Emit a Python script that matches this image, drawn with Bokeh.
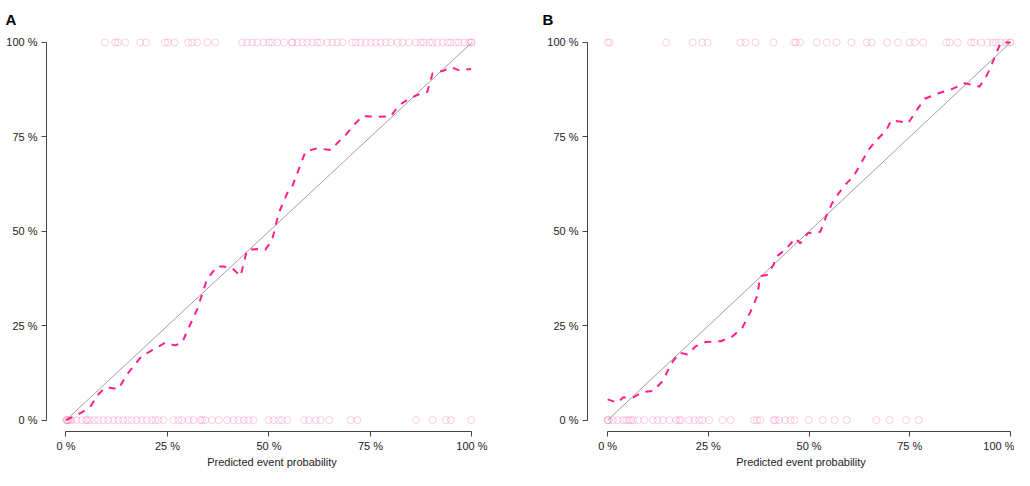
from bokeh.plotting import figure
from bokeh.layouts import row
from bokeh.models import FixedTicker, Range1d
from bokeh.embed import file_html
from bokeh.resources import INLINE

# ---------------- data (fractions 0..1) ----------------
tick_vals = [0, 0.25, 0.5, 0.75, 1]
tick_labels = ["0 %", "25 %", "50 %", "75 %", "100 %"]

a_curve_x = [0.0, 0.026, 0.059, 0.076, 0.096, 0.109, 0.129, 0.15, 0.187, 0.224, 0.244, 0.269,
             0.286, 0.302, 0.323, 0.335, 0.347, 0.372, 0.388, 0.409, 0.43, 0.446, 0.471, 0.491,
             0.508, 0.524, 0.545, 0.557, 0.59, 0.619, 0.652, 0.668, 0.689, 0.709, 0.73, 0.767,
             0.80, 0.821, 0.845, 0.874, 0.89, 0.903, 0.932, 0.948, 0.969, 0.998]
a_curve_y = [0.0, 0.013, 0.033, 0.064, 0.086, 0.086, 0.082, 0.121, 0.17, 0.192, 0.205, 0.198,
             0.205, 0.244, 0.293, 0.332, 0.372, 0.407, 0.407, 0.403, 0.381, 0.451, 0.453, 0.451,
             0.478, 0.548, 0.601, 0.618, 0.711, 0.72, 0.715, 0.733, 0.755, 0.781, 0.805, 0.803,
             0.805, 0.834, 0.851, 0.865, 0.869, 0.918, 0.926, 0.935, 0.926, 0.93]

a_events_x = [0.096, 0.121, 0.128, 0.146, 0.183, 0.197, 0.244, 0.251, 0.267, 0.301, 0.311,
              0.323, 0.348, 0.368, 0.434, 0.446, 0.459, 0.471, 0.487, 0.50, 0.508, 0.52,
              0.537, 0.557, 0.557, 0.57, 0.582, 0.594, 0.607, 0.619, 0.627, 0.644, 0.656,
              0.668, 0.681, 0.705, 0.714, 0.726, 0.738, 0.751, 0.763, 0.775, 0.788, 0.80,
              0.817, 0.829, 0.845, 0.862, 0.874, 0.882, 0.895, 0.903, 0.915, 0.928, 0.94,
              0.948, 0.96, 0.968, 0.981, 0.993, 0.999, 0.999]
a_nonevents_x = [0.0, 0.002, 0.004, 0.006, 0.01, 0.014, 0.026, 0.039, 0.049, 0.052, 0.059,
                 0.07, 0.08, 0.092, 0.104, 0.117, 0.129, 0.141, 0.152, 0.162, 0.174, 0.187,
                 0.199, 0.211, 0.22, 0.228, 0.24, 0.265, 0.277, 0.286, 0.302, 0.314, 0.331,
                 0.336, 0.343, 0.36, 0.376, 0.397, 0.413, 0.425, 0.438, 0.45, 0.462, 0.499,
                 0.512, 0.524, 0.532, 0.545, 0.586, 0.598, 0.615, 0.627, 0.648, 0.701,
                 0.718, 0.862, 0.903, 0.936, 0.948, 0.998]

b_curve_x = [0.0, 0.025, 0.038, 0.063, 0.087, 0.112, 0.137, 0.157, 0.178, 0.198, 0.219, 0.244,
             0.281, 0.31, 0.334, 0.355, 0.371, 0.379, 0.396, 0.412, 0.42, 0.441, 0.466, 0.478,
             0.497, 0.528, 0.542, 0.556, 0.573, 0.593, 0.61, 0.626, 0.647, 0.667, 0.692, 0.704,
             0.729, 0.746, 0.762, 0.787, 0.82, 0.853, 0.886, 0.923, 0.939, 0.951, 0.964, 0.976,
             1.0]
b_curve_y = [0.055, 0.046, 0.06, 0.06, 0.075, 0.077, 0.104, 0.148, 0.179, 0.174, 0.196, 0.207,
             0.209, 0.222, 0.244, 0.288, 0.328, 0.381, 0.385, 0.412, 0.434, 0.451, 0.482, 0.468,
             0.495, 0.499, 0.539, 0.572, 0.60, 0.627, 0.645, 0.675, 0.715, 0.741, 0.768, 0.794,
             0.79, 0.786, 0.813, 0.851, 0.865, 0.876, 0.892, 0.883, 0.909, 0.935, 0.97, 1.0,
             1.0]

b_events_x = [0.0, 0.005, 0.145, 0.211, 0.235, 0.248, 0.33, 0.342, 0.367, 0.412, 0.462,
              0.467, 0.478, 0.519, 0.544, 0.568, 0.605, 0.643, 0.655, 0.694, 0.721, 0.75,
              0.762, 0.783, 0.84, 0.849, 0.869, 0.902, 0.91, 0.927, 0.943, 0.956, 0.964,
              0.976, 0.988, 0.999, 0.999]
b_nonevents_x = [0.0, 0.0, 0.003, 0.013, 0.025, 0.038, 0.046, 0.053, 0.058, 0.064, 0.075,
                 0.091, 0.112, 0.124, 0.137, 0.153, 0.17, 0.178, 0.182, 0.202, 0.215, 0.227,
                 0.235, 0.252, 0.285, 0.305, 0.363, 0.371, 0.379, 0.412, 0.416, 0.425, 0.441,
                 0.454, 0.464, 0.499, 0.534, 0.563, 0.593, 0.667, 0.70, 0.741, 0.772]

# ---------------- styling ----------------
FONT = "Liberation Sans"
PINK = "#ff1f8a"
RUG = "#f06aa8"
H = 470


def make_panel(letter, curve_x, curve_y, ev_x, nev_x, width, x_start, x_end, border_right,
               title_offset):
    p = figure(width=width, height=H, output_backend="svg", toolbar_location=None,
               x_range=Range1d(x_start, x_end), y_range=Range1d(-0.030, 1.0158),
               min_border_left=46, min_border_right=border_right,
               min_border_top=35, min_border_bottom=38,
               background_fill_color="white", border_fill_color="white")
    p.outline_line_color = None
    p.grid.visible = False

    p.title.text = letter
    p.title.text_font = FONT
    p.title.text_font_size = "15px"
    p.title.text_font_style = "bold"
    p.title.text_color = "black"
    p.title.align = "left"
    p.title.offset = title_offset
    p.title.standoff = 17

    # rug of observations
    p.scatter(ev_x, [1.0] * len(ev_x), marker="circle", size=7, fill_color=None,
              line_color=RUG, line_alpha=0.32, line_width=1)
    p.scatter(nev_x, [0.0] * len(nev_x), marker="circle", size=7, fill_color=None,
              line_color=RUG, line_alpha=0.32, line_width=1)

    # ideal diagonal
    p.line([0, 1], [0, 1], line_color="#a0a0a0", line_width=1)
    # calibration curve
    p.line(curve_x, curve_y, line_color=PINK, line_width=2, line_dash="7 7")

    for ax in (p.xaxis[0], p.yaxis[0]):
        ax.ticker = FixedTicker(ticks=tick_vals)
        ax.major_label_overrides = {v: l for v, l in zip(tick_vals, tick_labels)}
        ax.bounds = (0, 1)
        ax.axis_line_color = "#444444"
        ax.major_tick_line_color = "#444444"
        ax.minor_tick_line_color = None
        ax.major_tick_in = 0
        ax.major_tick_out = 5
        ax.major_label_text_font = FONT
        ax.major_label_text_font_size = "11px"
        ax.major_label_text_color = "#222222"
        ax.major_label_standoff = 4
    p.xaxis[0].major_label_standoff = 3
    p.yaxis[0].major_label_orientation = "horizontal"
    p.xaxis[0].axis_label = "Predicted event probability"
    p.xaxis[0].axis_label_text_font = FONT
    p.xaxis[0].axis_label_text_font_size = "11px"
    p.xaxis[0].axis_label_text_font_style = "normal"
    p.xaxis[0].axis_label_text_color = "#222222"
    p.xaxis[0].axis_label_standoff = 1
    return p


pa = make_panel("A", a_curve_x, a_curve_y, a_events_x, a_nonevents_x,
                width=541, x_start=-0.048, x_end=1.063, border_right=44, title_offset=-41)
pb = make_panel("B", b_curve_x, b_curve_y, b_events_x, b_nonevents_x,
                width=473, x_start=-0.05, x_end=1.0099, border_right=0, title_offset=-45)

layout = row(pa, pb, spacing=0)
open("out.html", "w").write(file_html(layout, INLINE))
